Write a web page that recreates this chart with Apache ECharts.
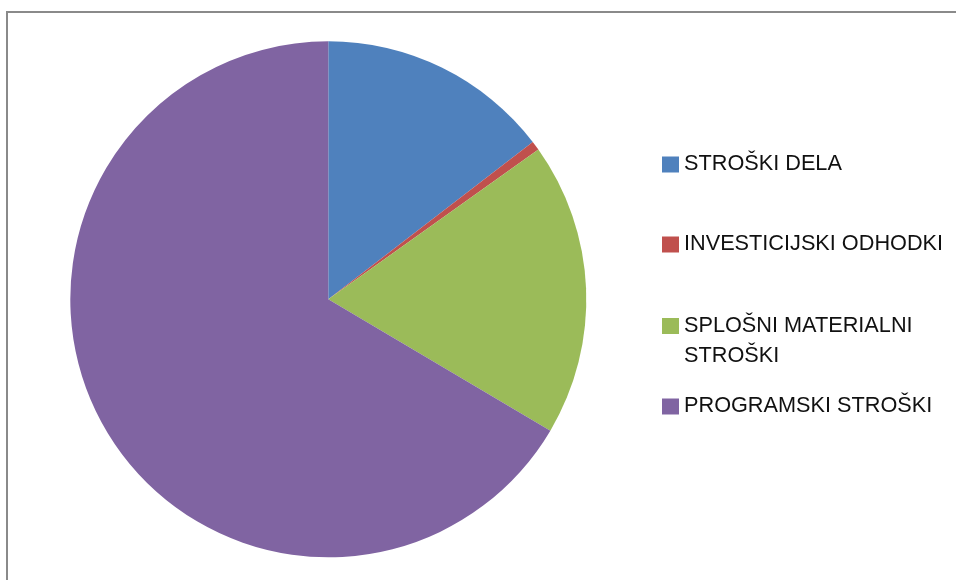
<!DOCTYPE html>
<html>
<head>
<meta charset="utf-8">
<script src="https://cdn.jsdelivr.net/npm/echarts@6/dist/echarts.min.js"></script>
<style>
  html, body { margin: 0; padding: 0; background: #fff; }
  #frame { position: absolute; left: 6px; top: 11px; width: 1000px; height: 700px;
           border-left: 2px solid #8a8a8a; border-top: 2px solid #8a8a8a; }
  #chart { position: absolute; left: 0; top: 0; width: 956px; height: 580px; }
</style>
</head>
<body>
<div id="frame"></div>
<div id="chart"></div>
<script>
const categories = ['STROŠKI DELA', 'INVESTICIJSKI ODHODKI', 'SPLOŠNI MATERIALNI STROŠKI', 'PROGRAMSKI STROŠKI'];
const legendLabels = ['STROŠKI DELA', 'INVESTICIJSKI ODHODKI', ' \nSPLOŠNI MATERIALNI\nSTROŠKI', 'PROGRAMSKI STROŠKI'];
const values = [14.56, 0.58, 18.36, 66.5];
const colors = ['#4F81BD', '#C0504D', '#9BBB59', '#8064A2'];

const L = 30;
const legendCenters = [164.5, 244.5, 326, 406.5];

const chart = echarts.init(document.getElementById('chart'), null, { renderer: 'canvas' });

const legends = categories.map((name, i) => {
  const lines = legendLabels[i].split('\n').length;
  return {
    orient: 'vertical',
    left: 662,
    top: legendCenters[i] - lines * L / 2,
    padding: 0,
    itemWidth: 17,
    itemHeight: 16,
    icon: 'rect',
    selectedMode: false,
    data: [name],
    formatter: () => legendLabels[i],
    textStyle: {
      fontFamily: 'Liberation Sans, Arial, sans-serif',
      fontSize: 21.7,
      color: '#111',
      lineHeight: L
    }
  };
});

chart.setOption({
  animation: false,
  color: colors,
  legend: legends,
  series: [{
    type: 'pie',
    center: [328.3, 299.3],
    radius: 258,
    startAngle: 90,
    clockwise: true,
    label: { show: false },
    labelLine: { show: false },
    emphasis: { disabled: true },
    itemStyle: { borderWidth: 0 },
    data: categories.map((name, i) => ({ name, value: values[i] }))
  }]
});
</script>
</body>
</html>
